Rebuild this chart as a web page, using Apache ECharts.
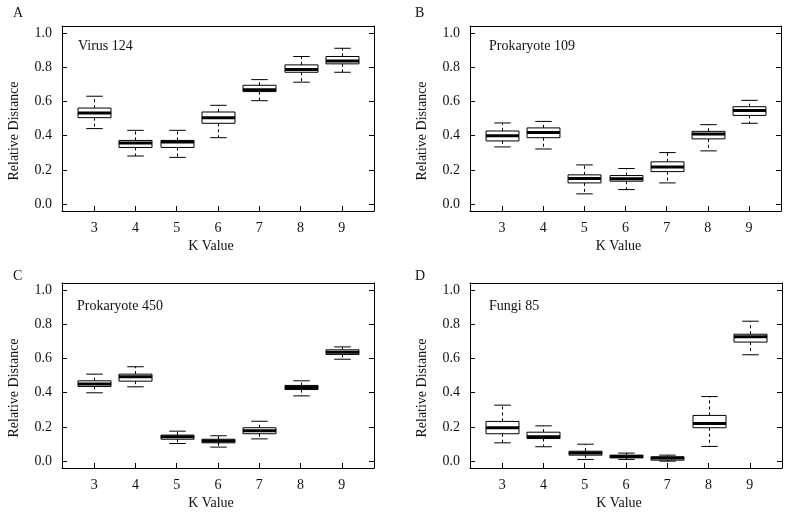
<!DOCTYPE html>
<html><head><meta charset="utf-8">
<script src="https://cdn.jsdelivr.net/npm/echarts@6/dist/echarts.min.js"></script>
<style>html,body{margin:0;padding:0;background:#fff}#c{width:787px;height:517px}</style>
</head><body><div id="c"></div>
<script>
const kValues = [3, 4, 5, 6, 7, 8, 9];
const yTicks = [0, 0.2, 0.4, 0.6, 0.8, 1.0];
const panelLetters = ['A', 'B', 'C', 'D'];
const panelNames = ['Virus 124', 'Prokaryote 109', 'Prokaryote 450', 'Fungi 85'];
const xTitle = 'K Value';
const yTitle = 'Relative Distance';
// each row: [lower whisker, Q1, median, Q3, upper whisker] for K = 3..9
const virus124 = [
  [0.441, 0.505, 0.532, 0.561, 0.630],
  [0.281, 0.331, 0.357, 0.372, 0.431],
  [0.273, 0.331, 0.363, 0.372, 0.431],
  [0.388, 0.472, 0.505, 0.538, 0.577],
  [0.604, 0.657, 0.668, 0.694, 0.727],
  [0.712, 0.770, 0.786, 0.813, 0.862],
  [0.770, 0.819, 0.836, 0.862, 0.910]
];
const prokaryote109 = [
  [0.334, 0.369, 0.400, 0.427, 0.474],
  [0.322, 0.388, 0.419, 0.445, 0.483],
  [0.060, 0.124, 0.150, 0.171, 0.229],
  [0.085, 0.134, 0.148, 0.167, 0.208],
  [0.124, 0.190, 0.217, 0.247, 0.301],
  [0.311, 0.381, 0.410, 0.425, 0.464],
  [0.472, 0.518, 0.546, 0.569, 0.606]
];
const prokaryote450 = [
  [0.399, 0.436, 0.451, 0.469, 0.508],
  [0.434, 0.467, 0.492, 0.508, 0.551],
  [0.103, 0.128, 0.142, 0.152, 0.175],
  [0.082, 0.107, 0.117, 0.128, 0.148],
  [0.130, 0.160, 0.177, 0.195, 0.233],
  [0.381, 0.418, 0.430, 0.442, 0.469],
  [0.595, 0.623, 0.636, 0.650, 0.667]
];
const fungi85 = [
  [0.107, 0.160, 0.195, 0.232, 0.327],
  [0.084, 0.132, 0.142, 0.169, 0.206],
  [0.010, 0.035, 0.047, 0.058, 0.099],
  [0.010, 0.019, 0.027, 0.035, 0.047],
  [0.000, 0.006, 0.018, 0.025, 0.035],
  [0.086, 0.195, 0.220, 0.267, 0.377],
  [0.621, 0.695, 0.726, 0.741, 0.817]
];
const panelData = [virus124, prokaryote109, prokaryote450, fungi85];

const FONT = 'Liberation Serif';
const INK = '#111';
const grids = [
  {left: 62, top: 26, width: 312, height: 185},
  {left: 470, top: 26, width: 311, height: 185},
  {left: 62, top: 283, width: 312, height: 185},
  {left: 470, top: 283, width: 312, height: 185}
];
const letterPos = [[13, 13], [415, 13], [13, 276], [415, 276]];
const namePos = [[78, 46], [489, 46], [77, 306], [489, 306]];

function renderBox(params, api) {
  const x = api.value(0);
  const pLo = api.coord([x, api.value(1)]);
  const pQ1 = api.coord([x, api.value(2)]);
  const pMed = api.coord([x, api.value(3)]);
  const pQ3 = api.coord([x, api.value(4)]);
  const pHi = api.coord([x, api.value(5)]);
  const halfBox = api.size([0.8, 0])[0] / 2;
  const halfCap = api.size([0.4, 0])[0] / 2;
  const cx = Math.round(pMed[0]) + 0.5;
  const dash = {stroke: '#000', lineWidth: 1, lineDash: [3, 3]};
  const solid = {stroke: '#000', lineWidth: 1};
  return {type: 'group', children: [
    {type: 'line', shape: {x1: cx, y1: pQ3[1], x2: cx, y2: pHi[1]}, style: dash},
    {type: 'line', shape: {x1: cx, y1: pQ1[1], x2: cx, y2: pLo[1]}, style: dash},
    {type: 'line', shape: {x1: cx - halfCap, y1: pHi[1], x2: cx + halfCap, y2: pHi[1]}, style: solid},
    {type: 'line', shape: {x1: cx - halfCap, y1: pLo[1], x2: cx + halfCap, y2: pLo[1]}, style: solid},
    {type: 'rect', shape: {x: cx - halfBox, y: pQ3[1], width: 2 * halfBox, height: pQ1[1] - pQ3[1]},
      style: {fill: '#fff', stroke: '#000', lineWidth: 1}},
    {type: 'line', shape: {x1: cx - halfBox, y1: pMed[1], x2: cx + halfBox, y2: pMed[1]},
      style: {stroke: '#000', lineWidth: 3}}
  ]};
}

const xAxes = [], yAxes = [], series = [], graphics = [];
grids.forEach(function (g, i) {
  const axisLine = {show: true, onZero: false, lineStyle: {color: '#000', width: 1}};
  xAxes.push({
    gridIndex: i, type: 'value', min: 2.22, max: 9.78, position: 'bottom',
    axisLine: axisLine,
    axisTick: {show: true, inside: true, length: 5, customValues: kValues, lineStyle: {color: '#000'}},
    axisLabel: {show: true, customValues: kValues, margin: 10, color: INK, fontFamily: FONT, fontSize: 14,
      formatter: function (v) { return String(v); }},
    splitLine: {show: false},
    name: xTitle, nameLocation: 'middle', nameGap: 28,
    nameTextStyle: {color: INK, fontFamily: FONT, fontSize: 14, padding: [0, 14, 0, 0]}
  });
  xAxes.push({
    gridIndex: i, type: 'value', min: 2.22, max: 9.78, position: 'top',
    axisLine: axisLine, axisTick: {show: false}, axisLabel: {show: false}, splitLine: {show: false}
  });
  yAxes.push({
    gridIndex: i, type: 'value', min: -0.04, max: 1.04, position: 'left',
    axisLine: axisLine,
    axisTick: {show: true, inside: true, length: 5, customValues: yTicks, lineStyle: {color: '#000'}},
    axisLabel: {show: true, customValues: yTicks, margin: 10, color: INK, fontFamily: FONT, fontSize: 14,
      formatter: function (v) { return v.toFixed(1); }},
    splitLine: {show: false},
    name: yTitle, nameLocation: 'middle', nameGap: 41,
    nameTextStyle: {color: INK, fontFamily: FONT, fontSize: 14, padding: [0, 25, 0, 0]}
  });
  yAxes.push({
    gridIndex: i, type: 'value', min: -0.04, max: 1.04, position: 'right',
    axisLine: axisLine,
    axisTick: {show: true, inside: true, length: 5, customValues: yTicks, lineStyle: {color: '#000'}},
    axisLabel: {show: false}, splitLine: {show: false}
  });
  series.push({
    type: 'custom', xAxisIndex: 2 * i, yAxisIndex: 2 * i,
    data: panelData[i].map(function (r, j) { return [kValues[j]].concat(r); }),
    encode: {x: 0, y: [1, 2, 3, 4, 5]},
    renderItem: renderBox, silent: true, clip: false
  });
  graphics.push({type: 'text', x: letterPos[i][0], y: letterPos[i][1],
    style: {text: panelLetters[i], font: '14px "' + FONT + '"', fill: INK, verticalAlign: 'middle', align: 'left'}});
  graphics.push({type: 'text', x: namePos[i][0], y: namePos[i][1],
    style: {text: panelNames[i], font: '14px "' + FONT + '"', fill: INK, verticalAlign: 'middle', align: 'left'}});
});

const chart = echarts.init(document.getElementById('c'), null, {renderer: 'canvas'});
chart.setOption({
  backgroundColor: '#fff',
  animation: false,
  grid: grids,
  xAxis: xAxes,
  yAxis: yAxes,
  series: series,
  graphic: graphics
});
</script>
</body></html>
